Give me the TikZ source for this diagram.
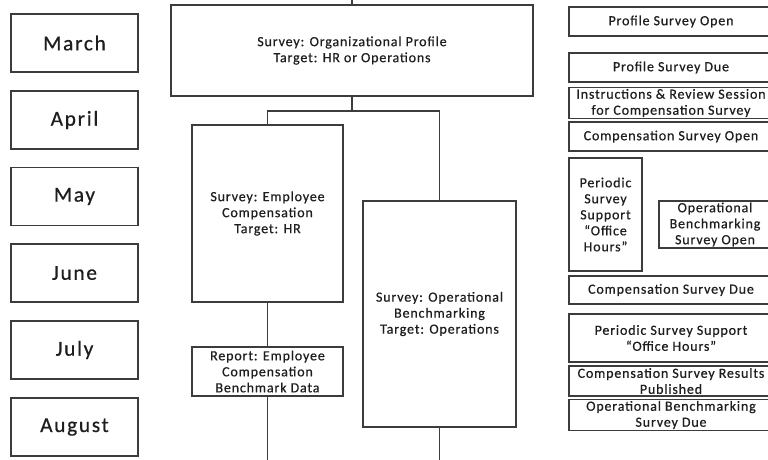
\documentclass[tikz,border=0pt]{standalone}
\usepackage{fontspec}
\setmainfont{Carlito}[LetterSpace=6,FakeBold=0.6]
\definecolor{edge}{HTML}{3C3C3C}
\definecolor{ink}{HTML}{1E1E1E}
\begin{document}
\begin{tikzpicture}[x=0.75pt,y=-0.75pt,
  box/.style={draw=edge, line width=0.9pt, rectangle, inner sep=1pt, align=center,
    text=ink, font=\fontsize{10.5}{12}\selectfont},
  month/.style={box, minimum width=127*0.75pt, minimum height=58*0.75pt,
    font=\fontsize{16}{19}\selectfont\addfontfeatures{LetterSpace=8}},
  wire/.style={draw=edge, line width=0.9pt}]
\useasboundingbox (0,0) rectangle (768,460);
\clip (0,0) rectangle (768,460);
% months
\node[month] (mar) at (74.5,43) {March};
\node[month] (apr) at (74.5,120) {April};
\node[month] (may) at (74.5,196.5) {May};
\node[month] (jun) at (74.5,273) {June};
\node[month] (jul) at (74.5,350) {July};
\node[month] (aug) at (74.5,427) {August};
% surveys
\node[box, minimum width=362*0.75pt, minimum height=91*0.75pt] (org) at (352,50.5)
  {Survey: Organizational Profile\\Target: HR or Operations};
\node[box, minimum width=151*0.75pt, minimum height=177*0.75pt] (emp) at (267.5,213.5)
  {Survey: Employee\\Compensation\\Target: HR};
\node[box, minimum width=151*0.75pt, minimum height=49*0.75pt] (rep) at (267.5,371.5)
  {Report: Employee\\Compensation\\Benchmark Data};
\node[box, minimum width=153*0.75pt, minimum height=226*0.75pt] (op) at (439.5,314)
  {Survey: Operational\\Benchmarking\\Target: Operations};
% right column
\node[box, minimum width=204*0.75pt, minimum height=29*0.75pt] (pso) at (671,21.5) {Profile Survey Open};
\node[box, minimum width=204*0.75pt, minimum height=29*0.75pt] (psd) at (671,67.5) {Profile Survey Due};
\node[box, minimum width=204*0.75pt, minimum height=30*0.75pt] (ins) at (671,103)
  {Instructions \& Review Session\\for Compensation Survey};
\node[box, minimum width=204*0.75pt, minimum height=29*0.75pt] (cso) at (671,136.5) {Compensation Survey Open};
\node[box, minimum width=73*0.75pt, minimum height=113*0.75pt] (per) at (605.5,214.5)
  {Periodic\\Survey\\Support\\“Office\\Hours”};
\node[box, minimum width=112*0.75pt, minimum height=47*0.75pt] (obo) at (715,224.5)
  {Operational\\Benchmarking\\Survey Open};
\node[box, minimum width=204*0.75pt, minimum height=28*0.75pt] (csd) at (671,290) {Compensation Survey Due};
\node[box, minimum width=204*0.75pt, minimum height=48*0.75pt] (pss) at (671,338)
  {Periodic Survey Support\\“Office Hours”};
\node[box, minimum width=204*0.75pt, minimum height=30*0.75pt] (csr) at (671,381)
  {Compensation Survey Results\\Published};
\node[box, minimum width=204*0.75pt, minimum height=30*0.75pt] (obd) at (671,415)
  {Operational Benchmarking\\Survey Due};
% connectors
\coordinate (top) at (352,0);
\coordinate (j) at (352,111);
\coordinate (repend) at (267.5,460);
\coordinate (opend) at (439.5,460);
\draw[wire] (top) -- (org.north);
\draw[wire] (org.south) -- (j);
\draw[wire] (j) -| (emp.north);
\draw[wire] (j) -| (op.north);
\draw[wire] (emp.south) -- (rep.north);
\draw[wire] (rep.south) -- (repend);
\draw[wire] (op.south) -- (opend);
\end{tikzpicture}
\end{document}
